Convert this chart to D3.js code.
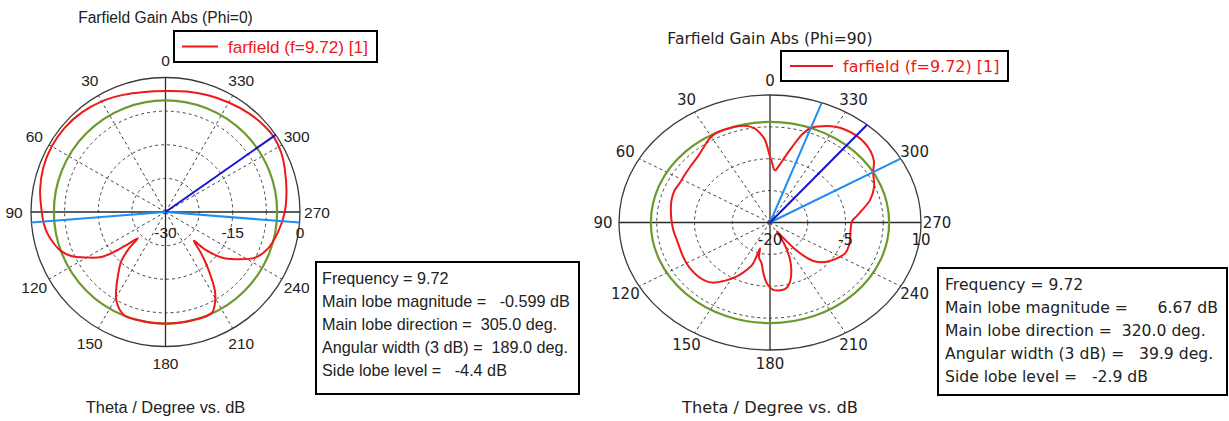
<!DOCTYPE html>
<html><head><meta charset="utf-8">
<script src="https://cdn.jsdelivr.net/npm/d3@7"></script>
<style>body{margin:0;background:#fff;} svg{display:block;}</style>
</head><body>
<svg id="c" width="1229" height="421"></svg>
<script>
// ---------------- DATA ----------------
const angleTicks = [0, 30, 60, 90, 120, 150, 180, 210, 240, 270, 300, 330];

// Phi = 0 cut
const phi0Theta = [0,10,20,30,40,50,60,70,80,90,95,100,105,110,115,120,125,128,130.5,133.5,135,138,143,148,151,155,159,165,172,180,188,195,201,205,208,212,217,221,224.5,226.5,231,236,243,250,260,270,280,290,297,305,312,320,330,340,350];
const phi0Gain  = [-3.0,-2.8,-2.2,-1.5,-1.0,-0.7,-0.7,-1.0,-1.6,-2.4,-2.7,-3.2,-4.0,-5.0,-6.8,-9.7,-12.5,-15.7,-19,-21.5,-18.5,-15.3,-12.4,-9.2,-7.4,-5.9,-5.1,-5.1,-5.1,-5.1,-5.1,-5.1,-5.0,-5.3,-6.6,-9.2,-14.3,-18,-21,-17.9,-13.9,-11.2,-7.6,-5.8,-4.5,-3.4,-2.6,-1.7,-1.0,-0.6,-0.8,-1.2,-1.8,-2.3,-2.7];
const phi0Rings = [-22.5, -15, -7.5];
const phi0RadialTicks = [-30, -15, 0];
const phi0Threshold = -5.1;          // green level
const phi0MainLobe = 305;            // deg
const phi0WidthLines = [265.5, 94.5];// deg
const phi0Info = [
  "Frequency = 9.72",
  "Main lobe magnitude =   -0.599 dB",
  "Main lobe direction =  305.0 deg.",
  "Angular width (3 dB) =  189.0 deg.",
  "Side lobe level =   -4.4 dB"
];

// Phi = 90 cut
const phi90Theta = [0,3,5.5,8,11,15,19,24,28,32,37,43,50,57,63,68,74,80,88,95,105,113,120,126,132,137,141,147,152,155,160.5,162,165,170,173,176,179,182,186,191,194,197,201,204.5,209,213,216,218.5,221,224,228,232,238,244,251,258,265,271,275,279,285,292,300,305,310,315,320,325,330,335,340,343,346,349,352,355.5,358.5];
const phi90Gain  = [-4.5,-0.5,1.2,2.4,3.1,3.5,3.6,3.65,3.55,3.0,2.0,1.1,0.6,0.3,0.2,0.4,0.3,0.0,-0.4,-0.7,-1.1,-1.0,-0.85,-0.8,-0.9,-1.2,-1.8,-3.7,-5.5,-6.8,-9.5,-13.6,-11.5,-10.3,-8.5,-6.5,-5.0,-4.2,-3.9,-4.1,-4.8,-6.0,-8.2,-10.4,-13.8,-17.5,-15.5,-11.8,-9.3,-7.3,-6.0,-5.2,-4.2,-3.4,-3.4,-3.7,-3.9,-3.7,-2.7,-1.5,0.6,2.3,3.67,5.2,6.1,6.55,6.67,6.5,6.0,5.0,3.67,1.6,-1.6,-4.2,-6.3,-7.7,-5.8];
const phi90Rings = [-12.5, -5, 2.5];
const phi90RadialTicks = [-20, -5, 10];
const phi90Threshold = 3.67;
const phi90MainLobe = 320;
const phi90WidthLines = [339.95, 300.05];
const phi90Info = [
  "Frequency = 9.72",
  "Main lobe magnitude =      6.67 dB",
  "Main lobe direction =  320.0 deg.",
  "Angular width (3 dB) =   39.9 deg.",
  "Side lobe level =   -2.9 dB"
];

const legendLabel = "farfield (f=9.72) [1]";
const xLabel = "Theta / Degree vs. dB";

// ---------------- DRAW ----------------
const svg = d3.select("#c");
const RED = "#f01818", GREEN = "#6c9a2e", BLUE = "#1414d2", LBLUE = "#1e8ef0";

function drawPolar(cfg) {
  const g = svg.append("g");
  const r = d3.scaleLinear().domain(cfg.domain).range([0, 1]);
  const a = d3.scaleLinear().domain([0, 360]).range([0, 2 * Math.PI]);
  const px = (t, v) => cfg.cx - cfg.rx * r(v) * Math.sin(a(t));
  const py = (t, v) => cfg.cy - cfg.ry * r(v) * Math.cos(a(t));
  const top = cfg.domain[1];

  // dashed rings
  g.selectAll("ellipse.ring").data(cfg.rings).join("ellipse")
    .attr("cx", cfg.cx).attr("cy", cfg.cy)
    .attr("rx", d => cfg.rx * r(d)).attr("ry", d => cfg.ry * r(d))
    .attr("fill", "none").attr("stroke", "#444").attr("stroke-width", 1)
    .attr("stroke-dasharray", "3,3");
  // dashed spokes
  g.selectAll("line.spoke").data(angleTicks.filter(d => d % 90 !== 0)).join("line")
    .attr("x1", cfg.cx).attr("y1", cfg.cy)
    .attr("x2", d => px(d, top)).attr("y2", d => py(d, top))
    .attr("stroke", "#444").attr("stroke-width", 1).attr("stroke-dasharray", "3,3");
  // outer circle
  g.append("ellipse").attr("cx", cfg.cx).attr("cy", cfg.cy)
    .attr("rx", cfg.rx).attr("ry", cfg.ry)
    .attr("fill", "none").attr("stroke", "#3a3a3a").attr("stroke-width", 1.3);
  // solid axes
  [[0, 180], [90, 270]].forEach(([t1, t2]) => {
    g.append("line").attr("x1", px(t1, top)).attr("y1", py(t1, top))
      .attr("x2", px(t2, top)).attr("y2", py(t2, top))
      .attr("stroke", "#2a2a2a").attr("stroke-width", 1.3);
  });

  // green threshold circle
  g.append("ellipse").attr("cx", cfg.cx).attr("cy", cfg.cy)
    .attr("rx", cfg.rx * r(cfg.threshold)).attr("ry", cfg.ry * r(cfg.threshold))
    .attr("fill", "none").attr("stroke", GREEN).attr("stroke-width", 2.2);

  // red pattern
  const pts = cfg.theta.map((t, i) => [t, cfg.gain[i]]);
  const line = d3.line().x(d => px(d[0], d[1])).y(d => py(d[0], d[1]))
    .curve(d3.curveCatmullRomClosed.alpha(0.5));
  g.append("path").attr("d", line(pts)).attr("fill", "none")
    .attr("stroke", RED).attr("stroke-width", 2);

  // beam width lines and main lobe
  cfg.widthLines.forEach(t => {
    g.append("line").attr("x1", cfg.cx).attr("y1", cfg.cy)
      .attr("x2", px(t, top)).attr("y2", py(t, top))
      .attr("stroke", LBLUE).attr("stroke-width", 2);
  });
  g.append("line").attr("x1", cfg.cx).attr("y1", cfg.cy)
    .attr("x2", px(cfg.mainLobe, top)).attr("y2", py(cfg.mainLobe, top))
    .attr("stroke", BLUE).attr("stroke-width", 2);

  // angle labels
  g.selectAll("text.ang").data(angleTicks).join("text")
    .attr("x", d => cfg.cx - (cfg.rx + cfg.lblOff[0]) * Math.sin(a(d)))
    .attr("y", d => cfg.cy - (cfg.ry + cfg.lblOff[1]) * Math.cos(a(d)))
    .attr("dy", "0.36em").attr("text-anchor", "middle")
    .attr("font-family", cfg.font).attr("font-size", cfg.fs).attr("fill", "#222")
    .text(d => d);
  // radial labels
  g.selectAll("text.rad").data(cfg.radialTicks).join("text")
    .attr("x", d => cfg.cx + cfg.rx * r(d))
    .attr("y", cfg.cy + cfg.radLblDy)
    .attr("dy", "0.36em").attr("text-anchor", "middle")
    .attr("font-family", cfg.font).attr("font-size", cfg.fs).attr("fill", "#222")
    .text(d => d);

  // title
  g.append("text").attr("x", cfg.cx).attr("y", cfg.titleY).attr("text-anchor", "middle")
    .attr("font-family", cfg.font).attr("font-size", cfg.titleFs).attr("fill", "#222")
    .text(cfg.title);
  // x label
  g.append("text").attr("x", cfg.cx).attr("y", cfg.xLabelY).attr("text-anchor", "middle")
    .attr("font-family", cfg.font).attr("font-size", cfg.xLabelFs).attr("fill", "#222")
    .text(xLabel);

  // legend
  const L = cfg.legend;
  g.append("rect").attr("x", L.x).attr("y", L.y).attr("width", L.w).attr("height", L.h)
    .attr("fill", "#fff").attr("stroke", "#000").attr("stroke-width", 2);
  g.append("line").attr("x1", L.x + L.lx1).attr("x2", L.x + L.lx2)
    .attr("y1", L.y + L.h / 2).attr("y2", L.y + L.h / 2)
    .attr("stroke", RED).attr("stroke-width", 2);
  g.append("text").attr("x", L.x + L.tx).attr("y", L.y + L.h / 2).attr("dy", "0.36em")
    .attr("font-family", cfg.font).attr("font-size", L.fs).attr("fill", RED)
    .text(legendLabel);

  // info box
  const B = cfg.box;
  g.append("rect").attr("x", B.x).attr("y", B.y).attr("width", B.w).attr("height", B.h)
    .attr("fill", "#fff").attr("stroke", "#000").attr("stroke-width", 2);
  g.selectAll("text.info").data(cfg.info).join("text")
    .attr("x", B.x + B.tx).attr("y", (d, i) => B.y + B.t0 + i * B.step)
    .attr("dy", "0.36em").attr("xml:space", "preserve").style("white-space", "pre")
    .attr("font-family", cfg.font).attr("font-size", B.fs).attr("fill", "#222")
    .text(d => d);
}

drawPolar({
  cx: 165.5, cy: 212, rx: 134.5, ry: 134.5, domain: [-30, 0],
  rings: phi0Rings, radialTicks: phi0RadialTicks, threshold: phi0Threshold,
  theta: phi0Theta, gain: phi0Gain, mainLobe: phi0MainLobe, widthLines: phi0WidthLines,
  lblOff: [17, 17], radLblDy: 20,
  font: "'Liberation Sans', Arial, sans-serif", fs: 15.5,
  title: "Farfield Gain Abs (Phi=0)", titleY: 23, titleFs: 15.6,
  xLabelY: 413, xLabelFs: 16.4,
  legend: {x: 174, y: 31, w: 203, h: 31, lx1: 8, lx2: 44, tx: 54, fs: 17.2},
  box: {x: 316, y: 262, w: 263, h: 132, tx: 6, t0: 16, step: 23, fs: 16.2},
  info: phi0Info
});

drawPolar({
  cx: 770, cy: 222.5, rx: 151, ry: 127.5, domain: [-20, 10],
  rings: phi90Rings, radialTicks: phi90RadialTicks, threshold: phi90Threshold,
  theta: phi90Theta, gain: phi90Gain, mainLobe: phi90MainLobe, widthLines: phi90WidthLines,
  lblOff: [16, 14], radLblDy: 17,
  font: "'DejaVu Sans', Verdana, sans-serif", fs: 15,
  title: "Farfield Gain Abs (Phi=90)", titleY: 44, titleFs: 15.6,
  xLabelY: 413, xLabelFs: 16.2,
  legend: {x: 781, y: 51, w: 227, h: 30, lx1: 9, lx2: 52, tx: 62, fs: 16},
  box: {x: 938, y: 268, w: 289, h: 127, tx: 7, t0: 16, step: 23.2, fs: 15.6},
  info: phi90Info
});
</script>
</body></html>
